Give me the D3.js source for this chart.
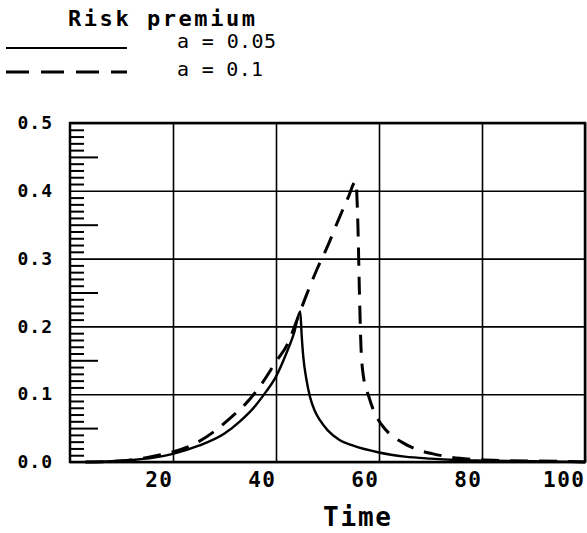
<!DOCTYPE html>
<html>
<head>
<meta charset="utf-8">
<script src="https://cdn.jsdelivr.net/npm/d3@7"></script>
<style>
  body { margin: 0; background: #fff; }
  svg { display: block; }
</style>
</head>
<body>
<svg id="chart"></svg>
<script>
// a = 0.05 (solid)
var timeA = [3, 8, 12, 16, 20, 25, 30, 33, 36, 38, 40, 42, 43.5, 44.7, 45.0, 45.3, 45.9, 46.6, 47.5, 48.5, 50, 52.4, 55, 60, 65, 70, 75, 80, 90, 100];
var premA = [0.0, 0.001, 0.003, 0.006, 0.012, 0.024, 0.042, 0.060, 0.083, 0.103, 0.126, 0.160, 0.190, 0.222, 0.185, 0.155, 0.122, 0.096, 0.076, 0.062, 0.047, 0.032, 0.024, 0.014, 0.008, 0.005, 0.003, 0.002, 0.001, 0.0];

// a = 0.1 (dashed)
var timeB = [3, 8, 12, 16, 20, 22.5, 25, 28, 31, 34, 37, 40, 42.3, 44, 46, 48, 50, 52, 54, 55.5, 55.9, 56.2, 56.5, 57, 58, 59, 60.5, 62, 64.5, 67.5, 70.5, 74, 78, 85, 95, 100];
var premB = [0.0, 0.001, 0.003, 0.008, 0.015, 0.021, 0.030, 0.045, 0.064, 0.085, 0.113, 0.148, 0.175, 0.208, 0.248, 0.285, 0.318, 0.355, 0.390, 0.414, 0.350, 0.250, 0.170, 0.125, 0.097, 0.075, 0.055, 0.042, 0.029, 0.018, 0.012, 0.007, 0.004, 0.002, 0.001, 0.0];

var xTicks = [20, 40, 60, 80, 100];
var yTicks = [0.0, 0.1, 0.2, 0.3, 0.4, 0.5];
var legendLabels = ["a = 0.05", "a = 0.1"];

var width = 587,
    height = 533;

var x = d3.scaleLinear().domain([0, 100]).range([70, 585]);
var y = d3.scaleLinear().domain([0, 0.5]).range([462, 123]);

var svg = d3.select("#chart")
  .attr("width", width)
  .attr("height", height);

var plotH = y(0) - y(0.5),
    plotW = x(100) - x(0);

// minor ticks, every 0.01
var minor = d3.range(0, 51).map(function(i) { return i / 100; })
  .filter(function(v) { return Math.round(v * 100) % 5 != 0; });
var mid = [0.05, 0.15, 0.25, 0.35, 0.45];

svg.append("g")
  .attr("transform", "translate(" + x(0) + ",0)")
  .call(d3.axisLeft(y).tickValues(minor).tickSize(-14).tickFormat(""))
  .call(function(g) { g.select(".domain").remove(); })
  .selectAll("line").attr("stroke", "#000").attr("stroke-width", 2);

svg.append("g")
  .attr("transform", "translate(" + x(0) + ",0)")
  .call(d3.axisLeft(y).tickValues(mid).tickSize(-28).tickFormat(""))
  .call(function(g) { g.select(".domain").remove(); })
  .selectAll("line").attr("stroke", "#000").attr("stroke-width", 2);

// y grid + labels
var yAxis = svg.append("g")
  .attr("transform", "translate(" + x(0) + ",0)")
  .call(d3.axisLeft(y).tickValues(yTicks).tickSize(-plotW).tickPadding(17).tickFormat(d3.format(".1f")));
yAxis.select(".domain").remove();
yAxis.selectAll("line").attr("stroke", "#000").attr("stroke-width", 1.6);
yAxis.selectAll("text")
  .attr("fill", "#000")
  .style("font-family", "'DejaVu Sans Mono', monospace")
  .style("font-weight", "bold")
  .style("font-size", "18px")
  .style("letter-spacing", "1px");

// x grid + labels
var xAxis = svg.append("g")
  .attr("transform", "translate(0," + y(0) + ")")
  .call(d3.axisBottom(x).tickValues(xTicks).tickSize(-plotH).tickPadding(10));
xAxis.select(".domain").remove();
xAxis.selectAll("line").attr("stroke", "#000").attr("stroke-width", 1.6);
xAxis.selectAll("text")
  .attr("fill", "#000")
  .attr("text-anchor", "end")
  .style("font-family", "'DejaVu Sans Mono', monospace")
  .style("font-weight", "bold")
  .style("font-size", "21px")
  .style("letter-spacing", "1.5px");

// frame
svg.append("rect")
  .attr("x", x(0))
  .attr("y", y(0.5))
  .attr("width", plotW)
  .attr("height", plotH)
  .attr("fill", "none")
  .attr("stroke", "#000")
  .attr("stroke-width", 2.5);

var line = d3.line()
  .x(function(d) { return x(d[0]); })
  .y(function(d) { return y(d[1]); })
  .curve(d3.curveMonotoneX);

svg.append("path")
  .datum(d3.zip(timeA, premA))
  .attr("d", line)
  .attr("fill", "none")
  .attr("stroke", "#000")
  .attr("stroke-width", 2.4);

svg.append("path")
  .datum(d3.zip(timeB, premB))
  .attr("d", line)
  .attr("fill", "none")
  .attr("stroke", "#000")
  .attr("stroke-width", 3)
  .attr("stroke-dasharray", "18,11");

// title + legend
svg.append("text")
  .attr("x", 68)
  .attr("y", 26)
  .attr("textLength", 187)
  .attr("lengthAdjust", "spacing")
  .style("font-family", "'DejaVu Sans Mono', monospace")
  .style("font-weight", "bold")
  .style("font-size", "22px")
  .text("Risk premium");

var legend = svg.selectAll("g.legendEntry")
  .data(legendLabels)
  .enter()
  .append("g").attr("class", "legendEntry");

legend.append("line")
  .attr("x1", 6)
  .attr("x2", 127)
  .attr("y1", function(d, i) { return 48 + i * 24; })
  .attr("y2", function(d, i) { return 48 + i * 24; })
  .attr("stroke", "#000")
  .attr("stroke-width", function(d, i) { return i == 0 ? 2 : 3; })
  .attr("stroke-dasharray", function(d, i) { return i == 0 ? null : "23,12"; });

legend.append("text")
  .attr("x", 177)
  .attr("y", function(d, i) { return 48 + i * 28; })
  .attr("textLength", function(d, i) { return i == 0 ? 99 : 86; })
  .attr("lengthAdjust", "spacing")
  .style("font-family", "'DejaVu Sans Mono', monospace")
  .style("font-size", "20px")
  .text(function(d) { return d; });

svg.append("text")
  .attr("x", 323)
  .attr("y", 526)
  .attr("textLength", 68)
  .attr("lengthAdjust", "spacing")
  .style("font-family", "'DejaVu Sans Mono', monospace")
  .style("font-weight", "bold")
  .style("font-size", "26px")
  .text("Time");
</script>
</body>
</html>
